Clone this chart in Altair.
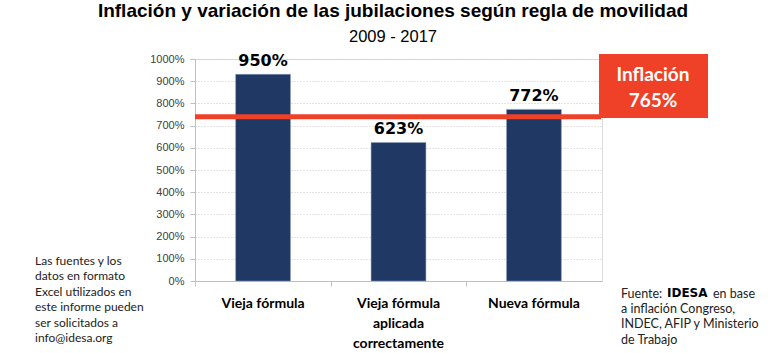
import altair as alt
import pandas as pd

# ---- data ----
categories = ["Vieja fórmula", "Vieja fórmula aplicada correctamente", "Nueva fórmula"]
bar_values = [931, 624, 773]          # bar heights as drawn
bar_labels = ["950%", "623%", "772%"]  # labels printed above bars
inflation_value = 740                  # position of the red line as drawn
inflation_label = ["Inflación", "765%"]
y_ticks = [0, 100, 200, 300, 400, 500, 600, 700, 800, 900, 1000]

title_text = "Inflación y variación de las jubilaciones según regla de movilidad"
subtitle_text = "2009 - 2017"
left_note = ["Las fuentes y los", "datos en formato", "Excel utilizados en",
             "este informe pueden", "ser solicitados a", "info@idesa.org"]
source_lines = ["a inflación Congreso,", "INDEC, AFIP y Ministerio", "de Trabajo"]

NAVY = "#1f3864"
RED = "#ee4127"
W, H = 407, 222

df = pd.DataFrame({"cat": categories, "val": bar_values, "lab": bar_labels})

xenc = alt.X(
    "cat:N", sort=categories, title=None,
    scale=alt.Scale(paddingInner=0.595, paddingOuter=0.3),
    axis=alt.Axis(
        labelAngle=0, labelFont="Lato", labelFontSize=14, labelFontWeight="bold",
        labelColor="#000000", labelPadding=10, labelLineHeight=20,
        labelExpr="datum.value == 'Vieja fórmula aplicada correctamente' ? ['Vieja fórmula','aplicada','correctamente'] : datum.value",
        domainColor="#bfbfbf", tickColor="#bfbfbf", tickSize=5, bandPosition=-0.73,
        grid=False,
    ),
)
yaxis = alt.Axis(
    values=y_ticks, labelExpr="datum.value + '%'", labelFont="Liberation Sans",
    labelFontSize=11, labelColor="#404040", labelPadding=6, labelOverlap=False,
    labelFlush=False, tickCount=11,
    domainColor="#bfbfbf", tickColor="#bfbfbf", tickSize=5,
    grid=True, gridColor="#c8c8c8", gridDash=[1, 2], gridWidth=1,
)
yscale = alt.Scale(domain=[0, 1000], nice=False)
yenc = alt.Y("val:Q", title=None, scale=yscale, axis=yaxis)

bars = alt.Chart(df).mark_bar(color=NAVY, stroke="#8ea0c0", strokeWidth=0.5).encode(x=xenc, y=yenc)
bar_text = alt.Chart(df).mark_text(
    font="DejaVu Sans", fontWeight="bold", fontSize=16, dy=-5, baseline="bottom", color="#000000"
).encode(x=xenc, y=yenc, text="lab:N")

infl = alt.Chart(pd.DataFrame({"val": [inflation_value]})).mark_rule(color=RED, strokeWidth=5).encode(
    y=yenc, x=alt.value(0), x2=alt.value(406)
)
box = alt.Chart(pd.DataFrame({"a": [0]})).mark_rect(color=RED).encode(
    x=alt.value(404), x2=alt.value(513), y=alt.value(-5), y2=alt.value(59)
)
box_text = alt.Chart(pd.DataFrame({"t": inflation_label, "yy": [16, 42]})).mark_text(
    font="Lato", fontWeight="bold", fontSize=19, color="white", align="center", baseline="middle"
).encode(x=alt.value(458), y=alt.Y("yy:Q", scale=None, axis=None), text="t:N")

title = alt.Chart(pd.DataFrame({"a": [0]})).mark_text(
    text=title_text, font="Liberation Sans", fontWeight="bold", fontSize=19,
    align="center", baseline="alphabetic", color="#000000"
).encode(x=alt.value(198), y=alt.value(-42))
subtitle = alt.Chart(pd.DataFrame({"a": [0]})).mark_text(
    text=subtitle_text, font="Liberation Sans", fontSize=16.5,
    align="center", baseline="alphabetic", color="#000000"
).encode(x=alt.value(198), y=alt.value(-17))

left = alt.Chart(pd.DataFrame({"a": [0]})).mark_text(
    text=left_note, font="Lato", fontSize=12, lineHeight=15.4, align="left",
    baseline="top", color="#222222"
).encode(x=alt.value(-160), y=alt.value(197))

src1 = alt.Chart(pd.DataFrame({"a": [0]})).mark_text(
    text="Fuente:", font="Lato", fontSize=12.5, align="left", baseline="top", color="#222222"
).encode(x=alt.value(426), y=alt.value(228.5))
src2 = alt.Chart(pd.DataFrame({"a": [0]})).mark_text(
    text="IDESA", font="DejaVu Sans", fontWeight="bold", fontSize=12, align="left", baseline="top", color="#000000"
).encode(x=alt.value(472), y=alt.value(229))
src3 = alt.Chart(pd.DataFrame({"a": [0]})).mark_text(
    text="en base", font="Lato", fontSize=12.5, align="left", baseline="top", color="#222222"
).encode(x=alt.value(518), y=alt.value(228.5))
src4 = alt.Chart(pd.DataFrame({"a": [0]})).mark_text(
    text=source_lines, font="Lato", fontSize=12.5, lineHeight=15.3, align="left", baseline="top", color="#222222"
).encode(x=alt.value(426), y=alt.value(244))

chart = alt.layer(
    bars, bar_text, infl, box, box_text, title, subtitle, left, src1, src2, src3, src4
).properties(
    width=W, height=H,
    autosize=alt.AutoSizeParams(type="none"),
    padding={"left": 195, "top": 59, "right": 166, "bottom": 72},
).configure_view(stroke=None).configure(background="white")

chart.save("out.html", embed_options={"renderer": "svg", "actions": False})
